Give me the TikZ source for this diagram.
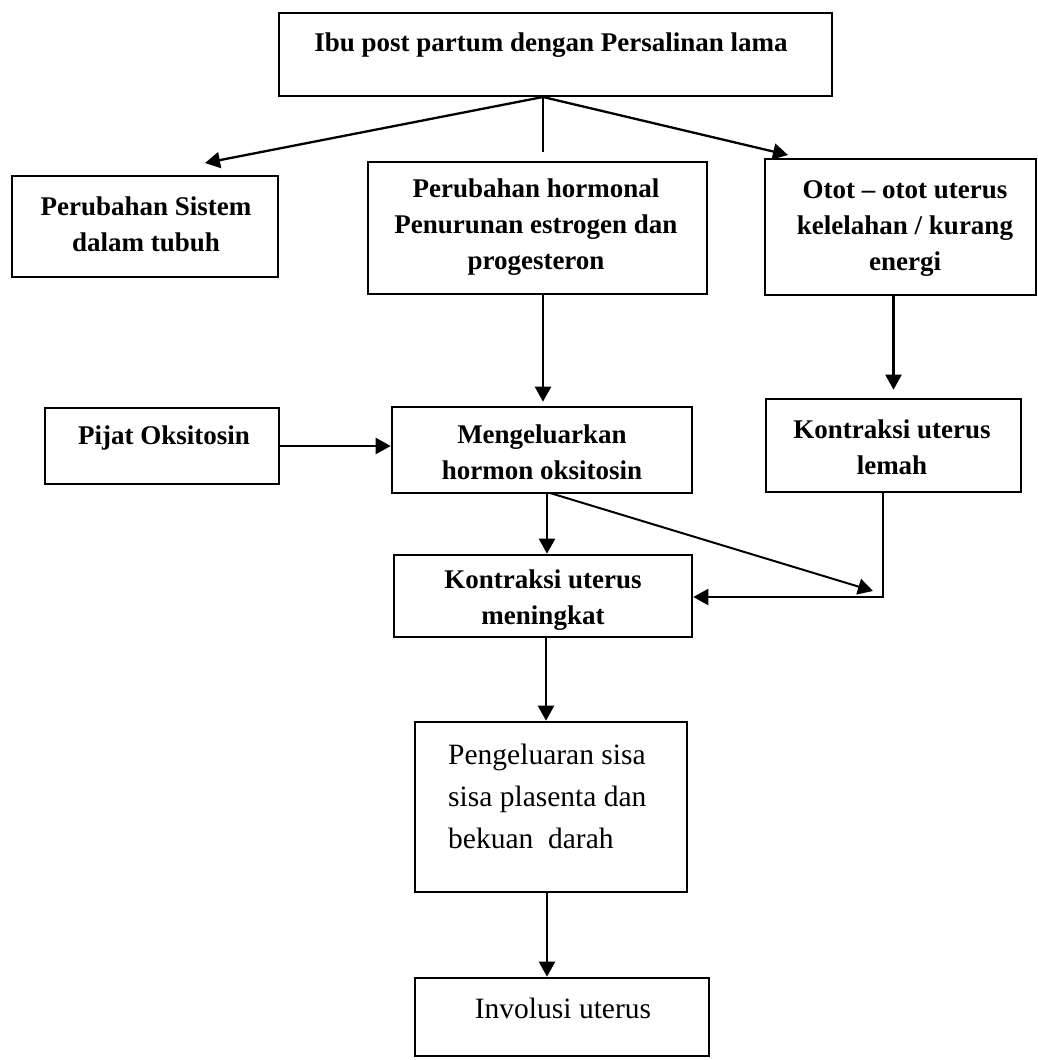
\documentclass[tikz,border=0pt]{standalone}
\usepackage{fontspec}
\setmainfont{Liberation Serif}
\usetikzlibrary{arrows.meta,calc}
\begin{document}
\begin{tikzpicture}[x=1pt,y=-1pt,
  box/.style={draw,line width=2.6pt,rectangle,inner sep=0pt},
  hd/.style={font=\fontsize{27}{36}\selectfont\bfseries,align=center,inner sep=0pt},
  rg/.style={font=\fontsize{29.5}{42}\selectfont,align=left,inner sep=0pt},
  arr/.style={line width=2.3pt,-{Triangle[length=15pt,width=16pt]}},
  ln/.style={line width=2.3pt}]
\useasboundingbox (0,0) rectangle (1038,1060);
% boxes
\node[box,minimum width=553,minimum height=83] (top) at (555.5,54.5) {};
\node[box,minimum width=266,minimum height=101] (left) at (145,226.5) {};
\node[box,minimum width=339,minimum height=132] (mid) at (537.5,228) {};
\node[box,minimum width=271,minimum height=136] (right) at (900.5,227) {};
\node[box,minimum width=234,minimum height=76] (pijat) at (162,446) {};
\node[box,minimum width=300,minimum height=86] (meng) at (542,450) {};
\node[box,minimum width=255,minimum height=93] (lemah) at (893.5,445.5) {};
\node[box,minimum width=298,minimum height=82] (mening) at (543,596) {};
\node[box,minimum width=272,minimum height=170] (peng) at (551,807) {};
\node[box,minimum width=294,minimum height=78] (inv) at (562,1017) {};
% texts
\node[hd] (topT) at (551,45) {Ibu post partum dengan Persalinan lama};
\node[hd] (leftT) at (146,224) {Perubahan Sistem\\dalam tubuh};
\node[hd] (midT) at (536,227) {Perubahan hormonal\\Penurunan estrogen dan\\progesteron};
\node[hd] (rightT) at (905,229) {Otot -- otot uterus\\kelelahan / kurang\\energi};
\node[hd] (pijatT) at (164,438) {Pijat Oksitosin};
\node[hd] (mengT) at (542,452) {Mengeluarkan\\hormon oksitosin};
\node[hd] (lemahT) at (892,447.5) {Kontraksi uterus\\lemah};
\node[hd] (meningT) at (543,600) {Kontraksi uterus\\meningkat};
\node[rg,anchor=west] (pengT) at (448,796) {Pengeluaran sisa\\sisa plasenta dan\\bekuan\ \ darah};
\node[rg] (invT) at (563,1008) {Involusi uterus};
% connectors
\coordinate (split) at (543,97);
\coordinate (tipL) at (205,163);
\coordinate (tipR) at (788,155);
\coordinate (stub) at (543,152);
\coordinate (diagEnd) at (873,591);
\coordinate (corner) at (883,597);
\draw[arr] (split) -- (tipL);
\draw[arr] (split) -- (tipR);
\draw[ln] (split) -- (stub);
\draw[arr] (mid.south -| split) -- ($(meng.north -| split)+(0,-4)$);
\draw[arr] (right.south -| lemah.north) -- ($(lemah.north)+(0,-8)$);
\draw[arr] (pijat.east) -- (pijat.east -| meng.west);
\draw[arr] (meng.south -| 547,0) -- (mening.north -| 547,0);
\draw[arr,line width=2pt] (550,493) -- (diagEnd);
\draw[arr] (lemah.south -| corner) -- (corner) -- (corner -| mening.east);
\draw[arr] (mening.south -| 546,0) -- (peng.north -| 546,0);
\draw[arr] (peng.south -| 547,0) -- (inv.north -| 547,0);
\end{tikzpicture}
\end{document}
